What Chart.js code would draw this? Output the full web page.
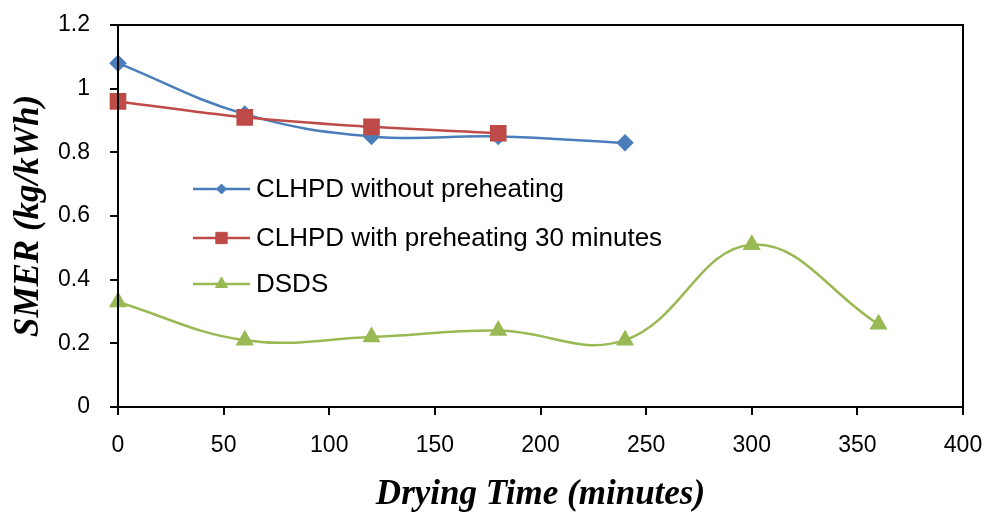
<!DOCTYPE html>
<html>
<head>
<meta charset="utf-8">
<script src="https://cdn.jsdelivr.net/npm/chart.js@4"></script>
<style>
  html, body { margin: 0; padding: 0; background: #fff; }
  #wrap { width: 991px; height: 512px; position: relative; }
</style>
</head>
<body>
<div id="wrap"><canvas id="smerChart"></canvas></div>
<script>
// Data
const timesClhpd = [0, 60, 120, 180, 240];
const smerNoPreheat = [1.08, 0.92, 0.85, 0.85, 0.83];
const timesPreheat = [0, 60, 120, 180];
const smerPreheat = [0.96, 0.91, 0.88, 0.86];
const timesDsds = [0, 60, 120, 180, 240, 300, 360];
const smerDsds = [0.33, 0.21, 0.22, 0.24, 0.21, 0.51, 0.26];

const seriesLabels = ['CLHPD without preheating', 'CLHPD with preheating 30 minutes', 'DSDS'];

const BLUE = '#4a7ebb';
const RED = '#be4b48';
const GREEN = '#98b954';

const toPoints = (xs, ys) => xs.map((x, i) => ({ x, y: ys[i] }));

const tickFont = { family: 'Liberation Sans', size: 23 };
const titleFont = { family: 'Liberation Serif', size: 35, weight: 'bold', style: 'italic', lineHeight: 1 };

// Frame around the plot area (top and right edges)
const framePlugin = {
  id: 'frame',
  afterDatasetsDraw(chart) {
    const { ctx, chartArea: a } = chart;
    ctx.save();
    ctx.strokeStyle = '#000';
    ctx.lineWidth = 2;
    ctx.strokeRect(a.left, a.top, a.right - a.left, a.bottom - a.top);
    ctx.restore();
  }
};

// Legend drawn inside the plot area
const insideLegend = {
  id: 'insideLegend',
  afterDraw(chart) {
    const { ctx } = chart;
    const rows = [189, 238, 284];
    const x0 = 193, x1 = 250;
    ctx.save();
    chart.data.datasets.forEach((ds, i) => {
      const y = rows[i];
      ctx.strokeStyle = ds.borderColor;
      ctx.lineWidth = 2.5;
      ctx.beginPath();
      ctx.moveTo(x0, y);
      ctx.lineTo(x1, y);
      ctx.stroke();
      ctx.fillStyle = ds.borderColor;
      ctx.lineWidth = 1;
      Chart.helpers.drawPoint(ctx, {
        pointStyle: ds.pointStyle,
        radius: ds.legendRadius,
        borderWidth: 1
      }, (x0 + x1) / 2, y);
      ctx.fillStyle = '#000';
      ctx.font = '26px "Liberation Sans"';
      ctx.textBaseline = 'middle';
      ctx.fillText(ds.label, 256, y + 1);
    });
    ctx.restore();
  }
};

new Chart(document.getElementById('smerChart'), {
  type: 'line',
  data: {
    datasets: [
      {
        label: seriesLabels[0],
        data: toPoints(timesClhpd, smerNoPreheat),
        borderColor: BLUE,
        backgroundColor: BLUE,
        pointStyle: 'rectRot',
        pointRadius: 7,
        legendRadius: 5,
        borderWidth: 2.5,
        tension: 0.4,
        clip: false,
        order: 2
      },
      {
        label: seriesLabels[1],
        data: toPoints(timesPreheat, smerPreheat),
        borderColor: RED,
        backgroundColor: RED,
        pointStyle: 'rect',
        pointRadius: 10,
        legendRadius: 8,
        borderWidth: 2.5,
        tension: 0.4,
        clip: false,
        order: 1
      },
      {
        label: seriesLabels[2],
        data: toPoints(timesDsds, smerDsds),
        borderColor: GREEN,
        backgroundColor: GREEN,
        pointStyle: 'triangle',
        pointRadius: 8,
        legendRadius: 7,
        borderWidth: 2.5,
        tension: 0.4,
        clip: false,
        order: 3
      }
    ]
  },
  options: {
    responsive: true,
    maintainAspectRatio: false,
    animation: false,
    layout: { padding: { top: 25, right: 28, left: 0, bottom: 0 } },
    plugins: {
      legend: { display: false },
      tooltip: { enabled: false }
    },
    scales: {
      x: {
        type: 'linear',
        min: 0,
        max: 400,
        ticks: { stepSize: 50, color: '#000', font: tickFont, padding: 17, maxRotation: 0 },
        grid: { drawOnChartArea: false, drawTicks: true, tickLength: 8, color: '#000', lineWidth: 2 },
        border: { color: '#000', width: 2 },
        title: { display: true, text: 'Drying Time (minutes)', color: '#000', font: titleFont, padding: { top: -6, bottom: 0 } },
        afterFit(scale) {
          scale.height = 105;
          scale.paddingLeft = 0;
          scale.paddingRight = 0;
        }
      },
      y: {
        min: 0,
        max: 1.2,
        ticks: {
          stepSize: 0.2,
          color: '#000',
          font: tickFont,
          padding: 20,
          callback: (v) => String(+v.toFixed(1))
        },
        grid: { drawOnChartArea: false, drawTicks: true, tickLength: 8, color: '#000', lineWidth: 2 },
        border: { color: '#000', width: 2 },
        title: { display: true, text: 'SMER (kg/kWh)', color: '#000', font: titleFont, padding: { top: 11, bottom: 0 } },
        afterFit(scale) {
          scale.width = 118;
          scale.paddingTop = 0;
          scale.paddingBottom = 0;
        }
      }
    }
  },
  plugins: [framePlugin, insideLegend]
});
</script>
</body>
</html>
